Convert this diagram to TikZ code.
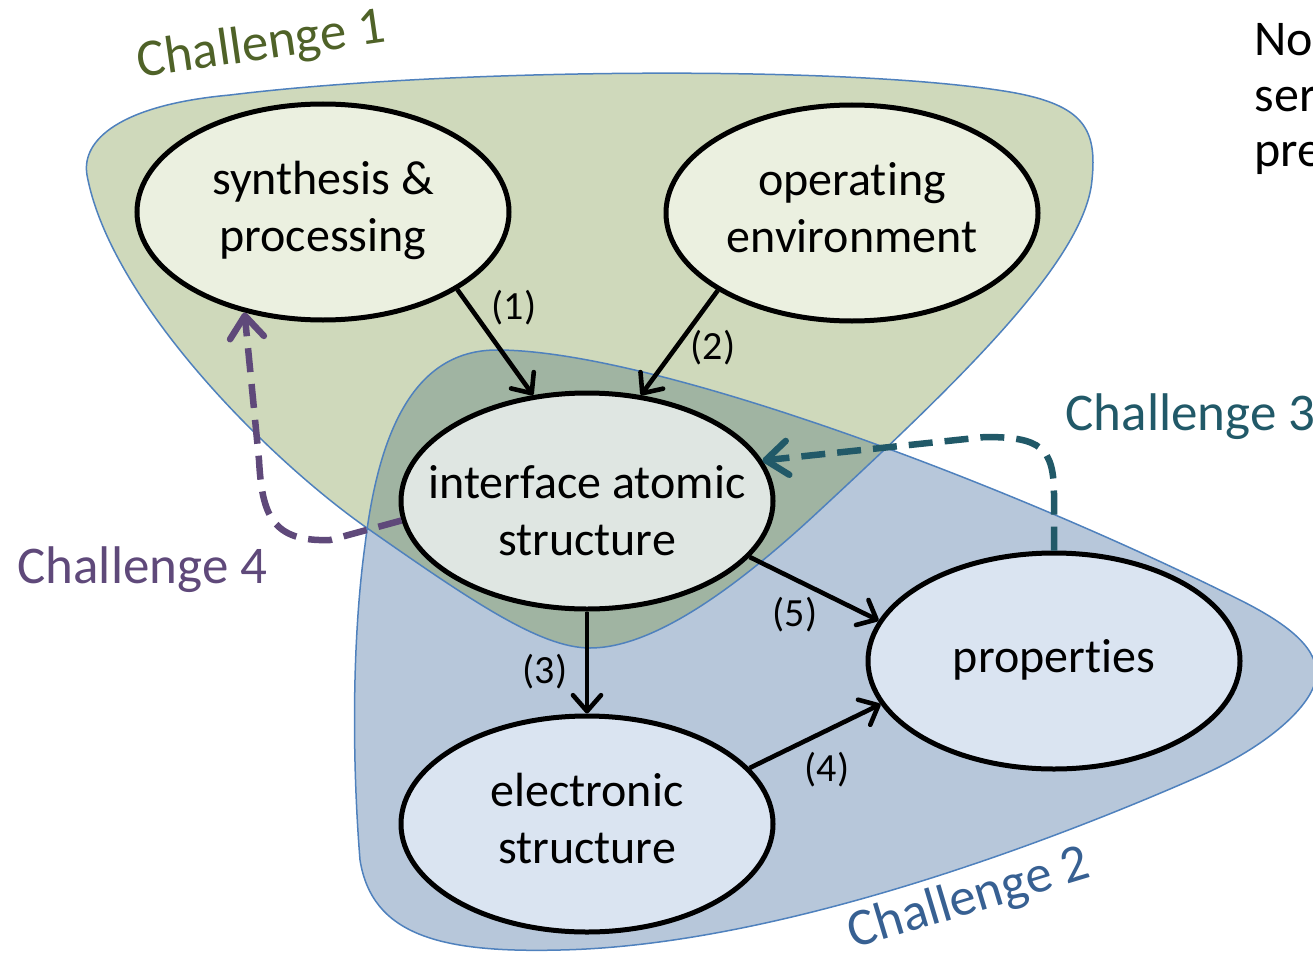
\documentclass[tikz,border=0pt]{standalone}
\usepackage{fontspec}
\setmainfont{Carlito}[Ligatures=NoCommon]
\usetikzlibrary{arrows.meta,shapes.geometric}

\definecolor{regionline}{HTML}{4F81BD}
\definecolor{greenfill}{HTML}{CFD9BB}
\definecolor{bluefill}{HTML}{B7C7DA}
\definecolor{overlapfill}{HTML}{A0B4A2}
\definecolor{palegreen}{HTML}{EBF0E0}
\definecolor{ifacefill}{HTML}{DFE6E2}
\definecolor{paleblue}{HTML}{DAE4F1}
\definecolor{cone}{HTML}{4F6228}
\definecolor{ctwo}{HTML}{376092}
\definecolor{cthree}{HTML}{215968}
\definecolor{cfour}{HTML}{5F497A}

% centred multi-line label that does not widen the ellipse;
% the optional argument pads the top to push the text down
\newcommand\nodetext[2][0pt]{\makebox[0pt]{\raisebox{0pt}[\dimexpr\height+#1\relax][\depth]{\begin{tabular}{@{}c@{}}#2\end{tabular}}}}

% outlines of the two challenge regions
\def\greenpath{(87,175)
  .. controls (81,140) and (120,105) .. (230,95)
  .. controls (450,68) and (850,65) .. (1010,92)
  .. controls (1085,105) and (1097,130) .. (1092,180)
  .. controls (1085,260) and (960,380) .. (820,510)
  .. controls (730,594) and (650,648) .. (590,648)
  .. controls (540,648) and (470,600) .. (367,528)
  .. controls (267,458) and (110,300) .. (87,175) -- cycle}
\def\bluepath{(497,350)
  .. controls (650,350) and (1000,480) .. (1240,600)
  .. controls (1290,625) and (1320,650) .. (1316,678)
  .. controls (1312,705) and (1270,745) .. (1200,776)
  .. controls (1100,820) and (800,945) .. (560,950)
  .. controls (440,953) and (372,935) .. (360,860)
  .. controls (352,760) and (352,640) .. (365,545)
  .. controls (380,420) and (420,350) .. (497,350) -- cycle}

\tikzset{
  bubble/.style={ellipse, draw=black, line width=5pt, minimum width=372pt,
    minimum height=216pt, inner sep=0pt, font=\fontsize{48}{57}\selectfont},
  flow/.style={line width=4.6pt, -{Straight Barb[length=16pt,width=28pt,round]}},
  loopback/.style={line width=6.5pt, dash pattern=on 24pt off 12pt,
    -{Straight Barb[length=22pt,width=34pt,round]}},
  steplabel/.style={font=\fontsize{40}{46}\selectfont},
  challenge/.style={font=\fontsize{53}{60}\selectfont, anchor=base west},
  sidetext/.style={font=\fontsize{50}{55}\selectfont, anchor=base west},
  region/.style={draw=regionline, line width=1.5pt}
}

\begin{document}
\begin{tikzpicture}[x=1pt, y=-1pt]
\useasboundingbox (0,0) rectangle (1313,955);

% challenge regions
\fill[bluefill] \bluepath;
\fill[greenfill] \greenpath;
\begin{scope}
  \clip \bluepath;
  \fill[overlapfill] \greenpath;
\end{scope}
\path[region] \bluepath;
\path[region] \greenpath;

% region labels
\node[challenge, cone, rotate=8.2] (c1) at (136,78) {Challenge 1};
\node[challenge, ctwo, rotate=16.7] (c2) at (850,950) {Challenge 2};
\node[challenge, cthree] (c3) at (1062,430) {Challenge 3};
\node[challenge, cfour] (c4) at (14,583) {Challenge 4};

% side text
\node[sidetext] (s1) at (1251,56) {No};
\node[sidetext] (s2) at (1251,111) {ser};
\node[sidetext] (s3) at (1251,166) {pre};

% stages
\node[bubble, fill=palegreen] (synth) at (323,212) {\nodetext{synthesis \&\\processing}};
\node[bubble, fill=palegreen] (oper) at (852,213) {\nodetext{operating\\environment}};
\node[bubble, fill=ifacefill] (iface) at (587,501) {\nodetext[30pt]{interface atomic\\structure}};
\node[bubble, fill=paleblue] (props) at (1054,661) {\nodetext{properties}};
\node[bubble, fill=paleblue] (elec) at (587,824) {\nodetext{electronic\\structure}};

% links
\draw[flow] (synth.-30) -- (iface.117);
\draw[flow] (oper.210) -- (iface.63);
\draw[flow] (iface.south) -- (elec.north);
\draw[flow] (iface.-19) -- (props.167);
\draw[flow] (elec.19) -- (props.194);

\node[steplabel] (l1) at (514,308) {(1)};
\node[steplabel] (l2) at (713,348) {(2)};
\node[steplabel] (l3) at (545,672) {(3)};
\node[steplabel] (l4) at (827,770) {(4)};
\node[steplabel] (l5) at (795,615) {(5)};

% feedback loops
\coordinate (f4a) at (330,540);
\coordinate (f4b) at (259,460);
\draw[loopback, cfour] (iface.186) -- (f4a) .. controls (272,542) and (262,515) .. (f4b) -- (synth.232);
\coordinate (f3a) at (1054,495);
\coordinate (f3b) at (985,437);
\draw[loopback, cthree] (props.north) -- (f3a) .. controls (1054,447) and (1040,437) .. (f3b) -- (iface.13);
\end{tikzpicture}
\end{document}
